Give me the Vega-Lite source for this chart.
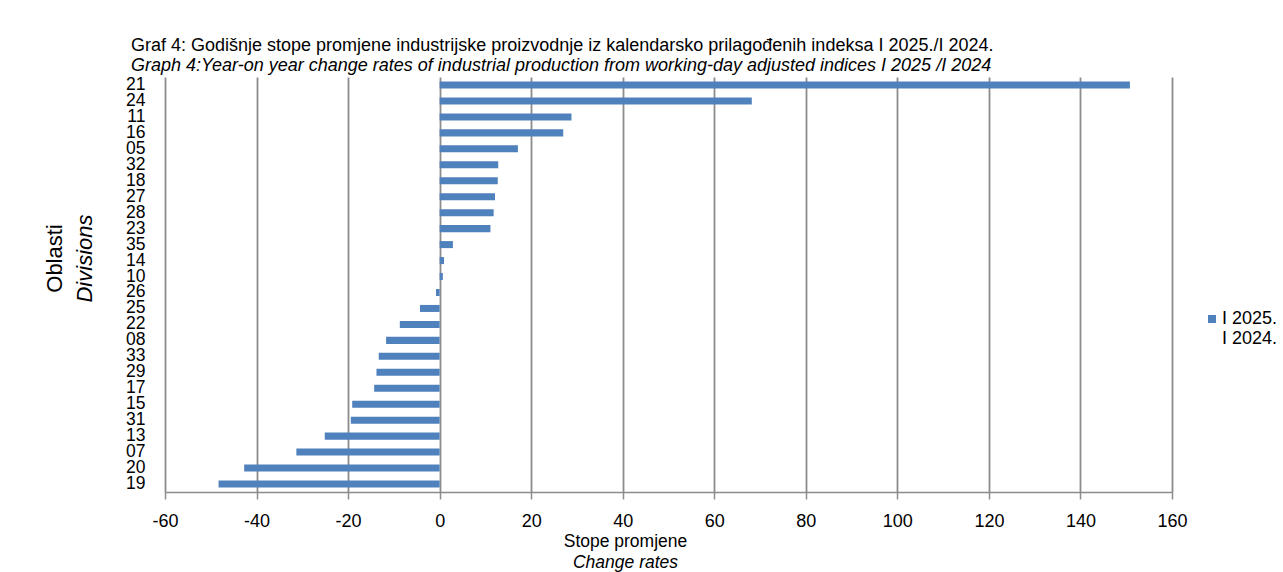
{
  "$schema": "https://vega.github.io/schema/vega-lite/v6.json",
  "width": 1007,
  "height": 415,
  "autosize": {"type": "none"},
  "padding": {"left": 165, "top": 77, "right": 111, "bottom": 80},
  "background": "white",
  "config": {
    "font": "Liberation Sans",
    "view": {"stroke": null}
  },
  "title": {
    "text": "Graf 4: Godišnje stope promjene industrijske proizvodnje iz kalendarsko prilagođenih indeksa I 2025./I 2024.",
    "subtitle": "Graph 4:Year-on year change rates of industrial production from working-day adjusted indices I 2025 /I 2024",
    "anchor": "start",
    "frame": "group",
    "dx": -34,
    "offset": 0,
    "font": "Liberation Sans",
    "fontSize": 18,
    "fontWeight": "normal",
    "color": "#000000",
    "subtitleFont": "Liberation Sans",
    "subtitleFontSize": 18,
    "subtitleFontStyle": "italic",
    "subtitleColor": "#000000",
    "subtitlePadding": 2
  },
  "data": {
    "values": [
      {"division": "21", "rate": 150.8, "series": "I 2025."},
      {"division": "24", "rate": 68.2, "series": "I 2025."},
      {"division": "11", "rate": 28.8, "series": "I 2025."},
      {"division": "16", "rate": 27.0, "series": "I 2025."},
      {"division": "05", "rate": 17.1, "series": "I 2025."},
      {"division": "32", "rate": 12.8, "series": "I 2025."},
      {"division": "18", "rate": 12.7, "series": "I 2025."},
      {"division": "27", "rate": 12.1, "series": "I 2025."},
      {"division": "28", "rate": 11.8, "series": "I 2025."},
      {"division": "23", "rate": 11.1, "series": "I 2025."},
      {"division": "35", "rate": 2.9, "series": "I 2025."},
      {"division": "14", "rate": 0.95, "series": "I 2025."},
      {"division": "10", "rate": 0.7, "series": "I 2025."},
      {"division": "26", "rate": -0.8, "series": "I 2025."},
      {"division": "25", "rate": -4.3, "series": "I 2025."},
      {"division": "22", "rate": -8.7, "series": "I 2025."},
      {"division": "08", "rate": -11.7, "series": "I 2025."},
      {"division": "33", "rate": -13.3, "series": "I 2025."},
      {"division": "29", "rate": -13.8, "series": "I 2025."},
      {"division": "17", "rate": -14.3, "series": "I 2025."},
      {"division": "15", "rate": -19.1, "series": "I 2025."},
      {"division": "31", "rate": -19.4, "series": "I 2025."},
      {"division": "13", "rate": -25.1, "series": "I 2025."},
      {"division": "07", "rate": -31.3, "series": "I 2025."},
      {"division": "20", "rate": -42.7, "series": "I 2025."},
      {"division": "19", "rate": -48.3, "series": "I 2025."}
    ]
  },
  "layer": [
    {
      "mark": {"type": "bar"},
      "encoding": {
        "y": {
          "field": "division",
          "type": "nominal",
          "sort": null,
          "scale": {"paddingInner": 0.56, "paddingOuter": 0.28},
          "axis": {
            "title": "Divisions",
            "titleFont": "Liberation Sans",
            "titleFontSize": 22,
            "titleFontStyle": "italic",
            "titleFontWeight": "normal",
            "titleColor": "#000000",
            "titleX": -81,
            "titleY": 181,
            "titleAngle": -90,
            "titleAlign": "center",
            "titleBaseline": "middle",
            "labelFont": "Liberation Sans",
            "labelFontSize": 17.5,
            "labelColor": "#000000",
            "labelPadding": 20,
            "labelOverlap": false,
            "labelBound": false,
            "ticks": false,
            "domain": false,
            "grid": false
          }
        },
        "x": {
          "field": "rate",
          "type": "quantitative",
          "scale": {"domain": [-60, 160], "nice": false, "zero": false},
          "axis": {
            "values": [-60, -40, -20, 0, 20, 40, 60, 80, 100, 120, 140, 160],
            "labelExpr": "'' + datum.value",
            "title": "Stope promjene",
            "titleFont": "Liberation Sans",
            "titleFontSize": 17.5,
            "titleFontWeight": "normal",
            "titleColor": "#000000",
            "titleX": 460,
            "titleY": 49,
            "titleAlign": "center",
            "titleBaseline": "middle",
            "labelFont": "Liberation Sans",
            "labelFontSize": 18,
            "labelColor": "#000000",
            "labelPadding": 13,
            "labelFlush": false,
            "labelOverlap": false,
            "tickSize": 7,
            "tickColor": "#8c8c8c",
            "tickWidth": 1.5,
            "domainColor": "#8c8c8c",
            "domainWidth": 1.5,
            "grid": true,
            "gridColor": "#8c8c8c",
            "gridWidth": 1.8
          }
        },
        "color": {
          "field": "series",
          "type": "nominal",
          "scale": {"range": ["#4F81BD"]},
          "legend": {
            "title": null,
            "orient": "none",
            "legendX": 1038,
            "legendY": 233,
            "symbolType": "square",
            "symbolSize": 64,
            "symbolStrokeWidth": 0,
            "labelFont": "Liberation Sans",
            "labelFontSize": 18,
            "labelColor": "#000000",
            "labelOffset": 1,
            "labelBaseline": "middle",
            "labelLimit": 200,
            "labelExpr": "['I 2025.', 'I 2024.']"
          }
        }
      }
    },
    {
      "mark": {"type": "bar", "opacity": 0},
      "encoding": {
        "y": {
          "field": "division",
          "type": "nominal",
          "sort": null,
          "scale": {"paddingInner": 0.56, "paddingOuter": 0.28},
          "axis": {
            "orient": "left",
            "title": "Oblasti",
            "titleFont": "Liberation Sans",
            "titleFontSize": 22,
            "titleFontWeight": "normal",
            "titleColor": "#000000",
            "titleX": -111,
            "titleY": 181,
            "titleAngle": -90,
            "titleAlign": "center",
            "titleBaseline": "middle",
            "labels": false,
            "ticks": false,
            "domain": false,
            "grid": false
          }
        },
        "x": {
          "field": "rate",
          "type": "quantitative",
          "scale": {"domain": [-60, 160], "nice": false, "zero": false},
          "axis": {
            "orient": "bottom",
            "title": "Change rates",
            "titleFont": "Liberation Sans",
            "titleFontSize": 17.5,
            "titleFontStyle": "italic",
            "titleFontWeight": "normal",
            "titleColor": "#000000",
            "titleX": 460,
            "titleY": 70,
            "titleAlign": "center",
            "titleBaseline": "middle",
            "labels": false,
            "ticks": false,
            "domain": false,
            "grid": false
          }
        }
      }
    }
  ],
  "resolve": {"scale": {"x": "independent", "y": "independent"}}
}
